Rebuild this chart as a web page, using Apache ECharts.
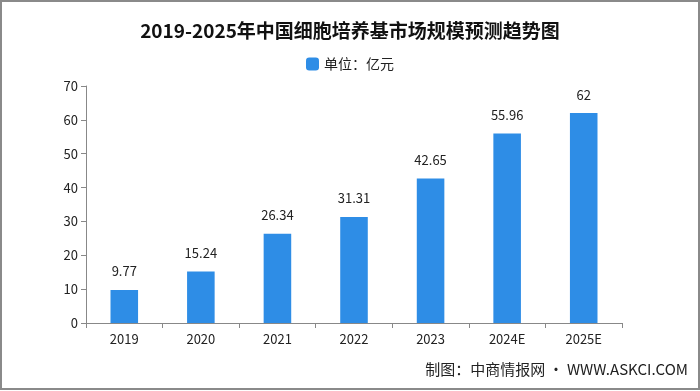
<!DOCTYPE html>
<html><head><meta charset="utf-8">
<script src="https://cdn.jsdelivr.net/npm/echarts@6/dist/echarts.min.js"></script>
<style>html,body{margin:0;padding:0;background:#fff}#c{width:700px;height:391px}</style>
</head><body><div id="c"></div>
<script>
const categories = ['2019','2020','2021','2022','2023','2024E','2025E'];
const marketSize = [9.77, 15.24, 26.34, 31.31, 42.65, 55.96, 62];
const yTicks = [0,10,20,30,40,50,60,70];
const titleText = '2019-2025年中国细胞培养基市场规模预测趋势图';
const seriesName = '单位：亿元';
const sourceText = '制图：中商情报网 · WWW.ASKCI.COM';

const chart = echarts.init(document.getElementById('c'));
chart.setOption({
  animation: false,
  title: { text: titleText, left: 'center', top: 16,
    textStyle: { fontSize: 19, fontWeight: 'bold', color: '#111', fontFamily: 'Noto Sans CJK SC' } },
  legend: { top: 52, left: 'center', itemWidth: 13, itemHeight: 13, itemGap: 4,
    textStyle: { fontSize: 14, color: '#222', fontFamily: 'Noto Sans CJK SC' }, data: [seriesName] },
  grid: { left: 86, right: 78, top: 86, bottom: 68 },
  xAxis: { type: 'category', data: categories,
    axisLine: { lineStyle: { color: '#888' } },
    axisTick: { show: true, lineStyle: { color: '#888' } },
    axisLabel: { color: '#222', fontSize: 13, margin: 10, fontFamily: 'Noto Sans CJK SC' } },
  yAxis: { type: 'value', min: yTicks[0], max: yTicks[yTicks.length-1], interval: 10,
    axisLine: { show: true, lineStyle: { color: '#888' } },
    axisTick: { show: true, lineStyle: { color: '#888' } },
    splitLine: { show: false },
    axisLabel: { color: '#222', fontSize: 13, margin: 8, fontFamily: 'Noto Sans CJK SC' } },
  series: [{ name: seriesName, type: 'bar', data: marketSize, barWidth: '36%',
    itemStyle: { color: '#2E8DE6' },
    label: { show: true, position: 'top', distance: 12, color: '#222', fontSize: 13,
      fontFamily: 'Noto Sans CJK SC' } }],
  graphic: [
    { type: 'rect', shape: { x: 1, y: 1, width: 698, height: 388 }, style: { fill: 'none', stroke: '#8a8a8a', lineWidth: 2 } },
    { type: 'text', right: 12, top: 362, style: { text: sourceText, fontSize: 15, fill: '#222', fontFamily: 'Noto Sans CJK SC' } }
  ]
});
</script></body></html>
